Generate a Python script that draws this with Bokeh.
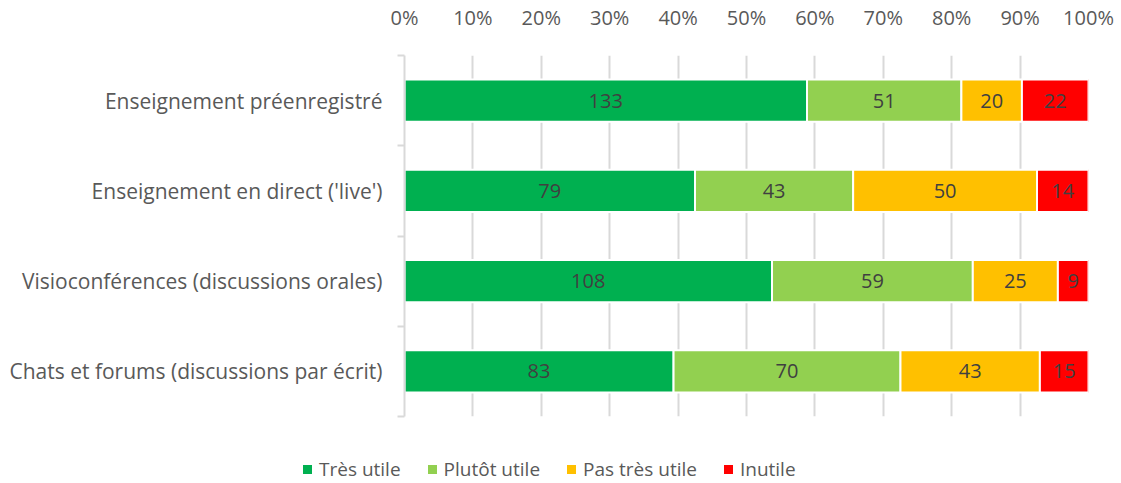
from bokeh.plotting import figure
from bokeh.layouts import column
from bokeh.models import (ColumnDataSource, FixedTicker, NumeralTickFormatter, Range1d,
                          LabelSet, Div)
from bokeh.core.properties import value
from bokeh.embed import file_html
from bokeh.resources import INLINE

categories = ["Enseignement préenregistré", "Enseignement en direct ('live')",
              "Visioconférences (discussions orales)", "Chats et forums (discussions par écrit)"]
series_names = ["Très utile", "Plutôt utile", "Pas très utile", "Inutile"]
tres_utile = [133, 79, 108, 83]
plutot_utile = [51, 43, 59, 70]
pas_tres_utile = [20, 50, 25, 43]
inutile = [22, 14, 9, 15]
colors = ["#00B050", "#92D050", "#FFC000", "#FF0000"]
x_ticks = [0, 0.1, 0.2, 0.3, 0.4, 0.5, 0.6, 0.7, 0.8, 0.9, 1.0]

FONT = "Open Sans"
FS = "20px"
TXT = "#595959"

n = len(categories)
ypos = [n - i - 0.5 for i in range(n)]
series = [tres_utile, plutot_utile, pas_tres_utile, inutile]
totals = [sum(s[i] for s in series) for i in range(n)]

p = figure(width=1121, height=420, output_backend="svg", toolbar_location=None,
           x_range=Range1d(0, 1), y_range=Range1d(0, n),
           x_axis_location="above",
           min_border_left=404, min_border_right=33, min_border_top=53, min_border_bottom=4)
p.outline_line_color = None
p.background_fill_color = "white"

left = [0.0] * n
for name, vals, col in zip(series_names, series, colors):
    fr = [v / t for v, t in zip(vals, totals)]
    right = [l + f for l, f in zip(left, fr)]
    mid = [(l + r) / 2 for l, r in zip(left, right)]
    src = ColumnDataSource(dict(y=ypos, left=left, right=right, mid=mid,
                                lab=[str(v) for v in vals]))
    p.hbar(y="y", left="left", right="right", height=0.47, source=src,
           fill_color=col, line_color="white", line_width=2, legend_label=name)
    p.add_layout(LabelSet(x="mid", y="y", text="lab", source=src, text_align="center",
                          text_baseline="middle", text_font=value(FONT),
                          text_font_size=value(FS), text_color="#404040"))
    left = right
p.legend.visible = False

# x axis
xa = p.xaxis[0]
xa.ticker = FixedTicker(ticks=x_ticks)
xa.formatter = NumeralTickFormatter(format="0%")
xa.axis_line_color = None
xa.major_tick_line_color = None
xa.minor_tick_line_color = None
xa.major_label_text_font = FONT
xa.major_label_text_font_size = FS
xa.major_label_text_color = TXT
xa.major_label_standoff = 19

# y axis
ya = p.yaxis[0]
ya.ticker = FixedTicker(ticks=ypos, minor_ticks=list(range(n + 1)))
ya.major_label_overrides = {y: c for y, c in zip(ypos, categories)}
ya.axis_line_color = "#D9D9D9"
ya.axis_line_width = 2
ya.major_tick_line_color = None
ya.minor_tick_line_color = "#D9D9D9"
ya.minor_tick_line_width = 2
ya.minor_tick_out = 7
ya.minor_tick_in = 0
ya.major_label_text_font = FONT
ya.major_label_text_font_size = "21px"
ya.major_label_text_color = TXT
ya.major_label_standoff = 15

p.xgrid.grid_line_color = "#D9D9D9"
p.xgrid.grid_line_width = 2
p.xgrid.ticker = FixedTicker(ticks=x_ticks)
p.ygrid.grid_line_color = None

# legend strip
parts = []
for i, (name, col) in enumerate(zip(series_names, colors)):
    gap = "0" if i == 0 else "27px"
    parts.append(
        f'<span style="display:inline-flex;align-items:center;margin-left:{gap}">'
        f'<span style="display:inline-block;width:9px;height:9px;background:{col};'
        f'margin-right:7px"></span><span>{name}</span></span>')
legend_html = (f'<div style="font-family:\'{FONT}\';font-size:19px;color:{TXT};'
               f'line-height:27px;padding:34px 0 0 303px;white-space:nowrap">'
               + "".join(parts) + "</div>")
lg = Div(text=legend_html, width=1121, height=63, margin=(0, 0, 0, 0))

open("out.html", "w").write(file_html(column(p, lg, spacing=0), INLINE))
